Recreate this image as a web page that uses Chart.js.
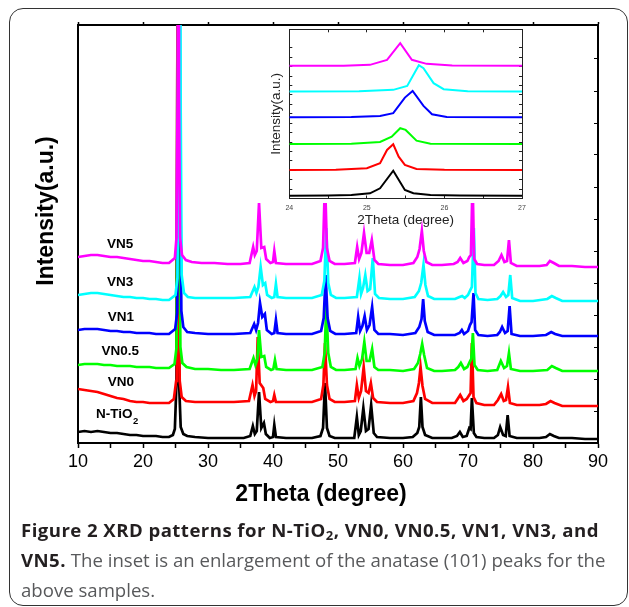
<!DOCTYPE html>
<html lang="en">
<head>
<meta charset="UTF-8">
<script src="https://cdn.jsdelivr.net/npm/chart.js@4.4.1/dist/chart.umd.min.js"></script>
<title>XRD patterns</title>
<style>
  body { margin: 0; width: 629px; height: 607px; background: #fff; position: relative; overflow: hidden; }
  #frame { position: absolute; left: 9px; top: 8px; width: 619px; height: 598px; box-sizing: border-box; border: 1.5px solid #333; border-radius: 14px; }
  #chart { position: absolute; left: 0; top: 0; }
  #inset { position: absolute; left: 262px; top: 20px; }
  #caption { position: absolute; left: 21px; top: 515px; font-family: "Open Sans", sans-serif; font-size: 18.6px; line-height: 30px; color: #58595b; white-space: nowrap; }
  #caption b { color: #231f20; letter-spacing: 0.45px; }
  #caption sub { font-size: 13px; line-height: 0; vertical-align: -3px; }
</style>
</head>
<body>
<div id="frame"></div>
<canvas id="chart" width="629" height="520"></canvas>
<canvas id="inset" width="275" height="212"></canvas>
<div id="caption"><b>Figure 2 XRD patterns for N-TiO<sub>2</sub>, VN0, VN0.5, VN1, VN3, and</b><br><b>VN5.</b> The inset is an enlargement of the anatase (101) peaks for the<br>above samples.</div>

<script>
// 2theta (degree), intensity (a.u., stacked)
const vn5 = [[10,186],[11,187],[12,188],[13,188],[14,187],[15,186],[16,186],[17,185],[18,184],[19,183],[20,182],[21,182],[22,181],[23,180],[24,180],[24.9,185],[25.15,205],[25.33,350],[25.43,740],[25.53,350],[25.7,205],[26,188],[26.6,183],[27.5,181],[29,180],[31,180],[33,179],[35,179],[36.4,180],[36.95,196],[37.2,188],[37.5,192],[37.85,240],[38.2,195],[38.65,196],[38.95,184],[39.6,180],[40.0,181],[40.2,192],[40.45,180],[42,179],[44,179],[46,179],[47.3,182],[47.7,195],[48.0,262],[48.3,195],[48.7,182],[49.5,179],[51,179],[52.6,180],[52.95,196],[53.25,184],[53.6,190],[54.0,210],[54.4,190],[54.8,190],[55.2,203],[55.6,183],[56.2,179],[58,178],[60,178],[61.6,180],[62.2,186],[62.55,194],[62.9,212],[63.2,192],[63.6,181],[64.5,178],[66,178],[67.8,179],[68.4,181],[68.8,185],[69.3,180],[69.9,182],[70.2,186],[70.45,188],[70.7,262],[70.95,184],[71.4,179],[72.5,178],[74,178],[74.7,182],[75.15,188],[75.6,181],[76.0,182],[76.3,203],[76.6,180],[77.5,177],[79,177],[81,177],[82.1,178],[82.6,182],[83.2,180],[84,177],[86,177],[88,176],[90,176]];
const vn3 = [[10,148],[11,149],[12,150],[13,150],[14,149],[15,148],[16,147],[17,146],[18,146],[19,145],[20,145],[21,144],[22,144],[23,143],[24,143],[25.0,148],[25.3,165],[25.5,330],[25.67,700],[25.8,330],[25.95,168],[26.3,150],[26.9,146],[28,145],[30,145],[32,145],[34,145],[36.5,146],[37.15,156],[37.45,150],[37.75,156],[38.1,176],[38.45,158],[38.8,160],[39.1,148],[39.8,145],[40.2,146],[40.45,159],[40.7,146],[42,145],[44,145],[46,145],[47.5,148],[47.9,162],[48.2,215],[48.5,160],[48.9,148],[49.7,145],[51,145],[52.9,146],[53.3,165],[53.55,149],[53.85,155],[54.2,168],[54.55,152],[54.95,154],[55.35,185],[55.7,149],[56.3,145],[58,144],[60,144],[61.8,146],[62.45,152],[62.8,160],[63.15,178],[63.45,158],[63.85,147],[64.8,144],[66,144],[68,144],[68.7,146],[69.1,147],[69.5,145],[70.0,148],[70.35,153],[70.6,156],[70.9,215],[71.15,150],[71.6,144],[73,143],[74.5,144],[75.0,147],[75.4,151],[75.85,146],[76.2,148],[76.5,168],[76.8,145],[78,142],[80,142],[82.2,144],[82.9,147],[83.5,145],[84.5,142],[86,142],[88,142],[90,142]];
const vn1 = [[10,113],[11,114],[12,114],[13,114],[14,113],[15,112],[16,112],[17,111],[18,111],[19,110],[20,110],[21,110],[22,109],[23,109],[24,109],[24.95,114],[25.25,130],[25.45,300],[25.58,660],[25.7,300],[25.9,132],[26.2,116],[26.8,111],[28,110],[30,109],[32,109],[34,109],[36.5,110],[37.1,119],[37.4,113],[37.7,120],[38.0,140],[38.35,126],[38.75,129],[39.05,113],[39.8,109],[40.2,110],[40.45,123],[40.7,110],[42,109],[44,109],[46,109],[47.4,112],[47.8,125],[48.1,168],[48.4,125],[48.8,112],[49.6,109],[51,109],[52.8,110],[53.1,126],[53.4,112],[53.75,117],[54.1,127],[54.45,113],[54.85,118],[55.25,136],[55.6,113],[56.2,109],[58,109],[60,108],[61.9,110],[62.5,116],[62.85,124],[63.1,144],[63.35,122],[63.8,111],[64.8,108],[66,108],[68,108],[68.7,110],[69.05,113],[69.4,109],[70.0,112],[70.3,118],[70.55,121],[70.85,150],[71.1,113],[71.6,108],[73,107],[74.5,108],[74.9,111],[75.25,116],[75.7,110],[76.1,112],[76.4,137],[76.7,109],[78,107],[80,107],[82.0,108],[82.8,111],[83.4,109],[84.5,107],[86,107],[88,107],[90,107]];
const vn05 = [[10,78],[11,79],[12,79],[13,79],[14,78],[15,78],[16,77],[17,77],[18,77],[19,76],[20,76],[21,76],[22,75],[23,75],[24,75],[24.85,79],[25.15,95],[25.32,280],[25.44,620],[25.56,280],[25.75,96],[26.05,80],[26.7,76],[28,74],[30,74],[32,73],[34,73],[36.4,74],[37.0,85],[37.3,78],[37.6,84],[37.85,113],[38.2,86],[38.65,87],[38.95,76],[39.7,73],[40.05,74],[40.3,83],[40.55,74],[42,73],[44,73],[46,73],[47.6,76],[47.95,90],[48.2,138],[48.5,90],[48.9,76],[49.7,73],[51,73],[52.7,74],[53.0,85],[53.3,77],[53.7,84],[54.05,101],[54.4,82],[54.85,82],[55.25,94],[55.6,76],[56.2,73],[58,73],[60,72],[61.7,74],[62.3,80],[62.65,89],[62.95,99],[63.25,88],[63.7,75],[64.8,72],[66,72],[68,73],[68.5,76],[68.9,80],[69.4,74],[69.9,76],[70.25,81],[70.5,84],[70.75,110],[71.0,78],[71.5,73],[73,72],[74.5,73],[75.05,82],[75.55,75],[76.0,77],[76.3,90],[76.6,74],[78,72],[80,72],[82.2,73],[82.9,77],[83.5,75],[84.5,72],[86,72],[88,72],[90,72]];
const vn0 = [[10,54],[11,53],[12,52],[13,51],[14,49],[15,47],[16,45],[17,44],[18,42],[19,41],[20,41],[21,40],[22,40],[23,40],[24,40],[24.75,44],[25.1,62],[25.2,90],[25.33,560],[25.45,160],[25.65,62],[25.95,46],[26.6,42],[28,41],[30,41],[32,41],[34,41],[36.3,42],[36.85,58],[37.15,47],[37.4,52],[37.65,106],[37.95,60],[38.5,55],[38.8,44],[39.6,41],[40.0,42],[40.2,48],[40.45,41],[42,41],[44,41],[46,41],[47.4,44],[47.75,58],[48.0,100],[48.3,58],[48.7,44],[49.5,41],[51,41],[52.6,42],[52.9,58],[53.2,45],[53.55,52],[53.95,76],[54.3,52],[54.7,50],[55.05,60],[55.4,45],[56,41],[58,40],[60,40],[61.6,42],[62.15,50],[62.45,60],[62.7,76],[63.0,57],[63.4,44],[64.5,40],[66,40],[68,40],[68.4,44],[68.8,48],[69.3,42],[69.8,44],[70.2,48],[70.4,50],[70.6,100],[70.85,46],[71.3,40],[72.5,38],[74,38],[74.6,43],[75.1,49],[75.5,42],[75.85,43],[76.15,56],[76.45,40],[77.5,38],[79,38],[81,38],[82.0,39],[82.7,42],[83.3,40],[84.5,37],[86,37],[88,37],[90,37]];
const ntio2 = [[10,11],[11,12],[12,11],[13,12],[14,11],[15,10],[16,10],[17,9],[18,8],[19,8],[20,7],[21,7],[22,7],[23,6],[24,6],[24.6,8],[24.9,14],[25.15,60],[25.34,520],[25.55,60],[25.8,16],[26.2,9],[26.8,7],[28,6],[30,5],[32,5],[34,5],[35.5,5],[36.5,7],[36.9,17],[37.2,9],[37.5,12],[37.85,51],[38.2,15],[38.6,20],[38.9,9],[39.5,5],[40.0,6],[40.2,18],[40.45,6],[42,5],[44,5],[46,5],[47.3,7],[47.7,15],[48.0,60],[48.3,15],[48.7,7],[49.5,5],[51,5],[52.5,5],[52.9,26],[53.2,8],[53.5,12],[53.9,35],[54.3,12],[54.7,14],[55.1,38],[55.5,10],[56,6],[58,5],[60,5],[61.5,6],[62.2,10],[62.5,16],[62.75,46],[63.0,16],[63.4,8],[64.5,5],[66,5],[67.5,5],[68.3,7],[68.75,11],[69.2,6],[69.8,7],[70.2,15],[70.4,14],[70.6,45],[70.9,10],[71.3,6],[72.5,5],[74,5],[74.6,8],[74.95,16],[75.4,8],[75.8,7],[76.1,28],[76.4,7],[77.5,5],[79,5],[81,5],[82.0,6],[82.6,9],[83.2,7],[84,5],[86,5],[88,4],[90,4]];

// inset: anatase (101) peak
const inVn5 = [[24,132.5],[24.7,132.7],[25.04,133.5],[25.26,138.5],[25.43,155.2],[25.58,138.5],[25.77,134.5],[26.1,132.8],[27,132.5]];
const inVn3 = [[24,106.8],[24.9,107],[25.34,108.5],[25.52,112.5],[25.67,133.2],[25.73,130.2],[25.86,115.2],[25.99,109.2],[26.3,107.2],[27,106.8]];
const inVn1 = [[24,81.2],[24.8,81.5],[25.17,82.5],[25.34,85.2],[25.49,100.8],[25.59,107.5],[25.73,92.5],[25.84,84.2],[26.03,81.5],[27,81.2]];
const inVn05 = [[24,54.5],[24.8,54.7],[25.17,56.5],[25.32,61.8],[25.43,70.2],[25.5,68.5],[25.64,57.8],[25.82,54.8],[27,54.5]];
const inVn0 = [[24,28.5],[24.6,28.7],[25.0,30.2],[25.17,35.2],[25.26,48.5],[25.34,54.2],[25.41,41.8],[25.49,33.5],[25.64,29.5],[26.0,28.6],[27,28.5]];
const inNtio2 = [[24,2.8],[24.5,3],[24.8,3.5],[25.04,5.2],[25.17,10.2],[25.34,27.8],[25.49,8.5],[25.6,5.2],[25.82,3.5],[26.2,3],[27,2.8]];

const seriesNames = ['VN5', 'VN3', 'VN1', 'VN0.5', 'VN0', 'N-TiO'];
const seriesSubs = ['', '', '', '', '', '2'];
const seriesColors = ['#ff00ff', '#00ffff', '#0000ff', '#00ff00', '#ff0000', '#000000'];
const labelX = [16.5, 16.5, 16.6, 16.5, 16.6, 16.0];
const labelY = [199, 161, 126, 92, 61, 29];

const FONT = '"Liberation Sans", Arial, Helvetica, sans-serif';
Chart.defaults.font.family = FONT;
Chart.defaults.color = '#000';

const toXY = arr => arr.map(p => ({ x: p[0], y: p[1] }));

// magenta first so it is drawn on top
const mainSeries = [vn5, vn3, vn1, vn05, vn0, ntio2];
const insetSeries = [inVn5, inVn3, inVn1, inVn05, inVn0, inNtio2];

const figText = {
    id: 'figText',
    afterDraw(chart) {
        const { ctx, scales: { x, y } } = chart;
        ctx.save();
        ctx.fillStyle = '#000';
        ctx.textBaseline = 'middle';
        ctx.textAlign = 'left';
        seriesNames.forEach((name, i) => {
            ctx.font = 'bold 13.5px ' + FONT;
            const w = ctx.measureText(name).width;
            ctx.font = 'bold 9.5px ' + FONT;
            const ws = seriesSubs[i] ? ctx.measureText(seriesSubs[i]).width : 0;
            const cx = x.getPixelForValue(labelX[i]);
            const cy = y.getPixelForValue(labelY[i]);
            const start = cx - (w + ws) / 2;
            ctx.font = 'bold 13.5px ' + FONT;
            ctx.fillText(name, start, cy);
            if (seriesSubs[i]) {
                ctx.font = 'bold 9.5px ' + FONT;
                ctx.fillText(seriesSubs[i], start + w + 0.5, cy + 7);
            }
        });
        ctx.font = 'bold 23px ' + FONT;
        ctx.textAlign = 'center';
        ctx.fillText('2Theta (degree)', 321, 495);
        ctx.translate(47, 211);
        ctx.rotate(-Math.PI / 2);
        ctx.fillText('Intensity(a.u.)', 0, 0);
        ctx.restore();
    }
};

const frameAxis = (extra) => Object.assign({
    type: 'linear',
    border: { color: '#000', width: 2 },
    grid: { drawOnChartArea: false, tickColor: '#000', tickWidth: 1.5 }
}, extra);

new Chart(document.getElementById('chart'), {
    type: 'line',
    data: {
        datasets: mainSeries.map((s, i) => ({
            label: seriesNames[i] + seriesSubs[i],
            data: toXY(s),
            borderColor: seriesColors[i],
            borderWidth: 2.7,
            pointRadius: 0,
            tension: 0
        }))
    },
    options: {
        responsive: false,
        animation: false,
        layout: { padding: { left: 0, top: 25, right: 31, bottom: 0 } },
        plugins: { legend: { display: false }, tooltip: { enabled: false } },
        scales: {
            x: frameAxis({
                position: 'bottom', min: 10, max: 90,
                ticks: { stepSize: 5, autoSkip: false, maxRotation: 0, padding: 3, color: '#000',
                    font: { size: 18 }, callback: v => v % 10 === 0 ? v : '' },
                grid: { drawOnChartArea: false, tickColor: '#000', tickWidth: 1.5, tickLength: 5 },
                afterFit: s => { s.height = 77; }
            }),
            xTop: frameAxis({
                position: 'top', min: 10, max: 90,
                ticks: { display: false, stepSize: 10 },
                grid: { drawOnChartArea: false, tickColor: '#000', tickWidth: 1.5, tickLength: 3 },
                afterFit: s => { s.height = 0; }
            }),
            y: frameAxis({
                position: 'left', min: 0, max: 418,
                ticks: { display: false },
                grid: { drawOnChartArea: false, drawTicks: false },
                afterFit: s => { s.width = 78; }
            }),
            yRight: frameAxis({
                position: 'right', min: 0, max: 418,
                ticks: { display: false, stepSize: 32 },
                grid: { drawOnChartArea: false, tickColor: '#000', tickWidth: 1, tickLength: -4 },
                afterFit: s => { s.width = 0; }
            })
        }
    },
    plugins: [figText]
});

// white box behind the inset
const insetBg = {
    id: 'insetBg',
    beforeDraw(chart) {
        const ctx = chart.ctx;
        ctx.save();
        ctx.fillStyle = '#fff';
        ctx.fillRect(0, 7, chart.width, 176);
        ctx.restore();
    }
};

const insetAxis = (extra) => Object.assign({
    type: 'linear',
    border: { color: '#222', width: 1 }
}, extra);

new Chart(document.getElementById('inset'), {
    type: 'line',
    data: {
        datasets: insetSeries.map((s, i) => ({
            label: seriesNames[i] + seriesSubs[i],
            data: toXY(s),
            borderColor: seriesColors[i],
            borderWidth: 2,
            pointRadius: 0,
            tension: 0
        }))
    },
    options: {
        responsive: false,
        animation: false,
        layout: { padding: { left: 0, top: 9.3, right: 15, bottom: 0 } },
        plugins: { legend: { display: false }, tooltip: { enabled: false } },
        scales: {
            x: insetAxis({
                position: 'bottom', min: 24, max: 27,
                ticks: { stepSize: 0.5, autoSkip: false, maxRotation: 0, padding: 8, color: '#444',
                    font: { size: 7 }, callback: v => Number.isInteger(v) ? v : '' },
                grid: { drawOnChartArea: false, tickColor: '#222', tickWidth: 1, tickLength: -3 },
                title: { display: true, text: '2Theta (degree)', color: '#222', font: { size: 13.5 }, padding: { top: 0, bottom: 4 } },
                afterFit: s => { s.height = 33.5; }
            }),
            xTop: insetAxis({
                position: 'top', min: 24, max: 27,
                ticks: { display: false, stepSize: 0.5 },
                grid: { drawOnChartArea: false, tickColor: '#222', tickWidth: 1, tickLength: -3 },
                afterFit: s => { s.height = 0; }
            }),
            y: insetAxis({
                position: 'left', min: 0, max: 169,
                ticks: { display: false, stepSize: 9.4 },
                grid: { drawOnChartArea: false, tickColor: '#222', tickWidth: 1, tickLength: -3 },
                title: { display: true, text: 'Intensity(a.u.)', color: '#222', font: { size: 13.5 }, padding: { top: 6, bottom: 0 } },
                afterFit: s => { s.width = 27.3; }
            }),
            yRight: insetAxis({
                position: 'right', min: 0, max: 169,
                ticks: { display: false, stepSize: 9.4 },
                grid: { drawOnChartArea: false, tickColor: '#222', tickWidth: 1, tickLength: -3 },
                afterFit: s => { s.width = 0; }
            })
        }
    },
    plugins: [insetBg]
});
</script>
</body>
</html>
